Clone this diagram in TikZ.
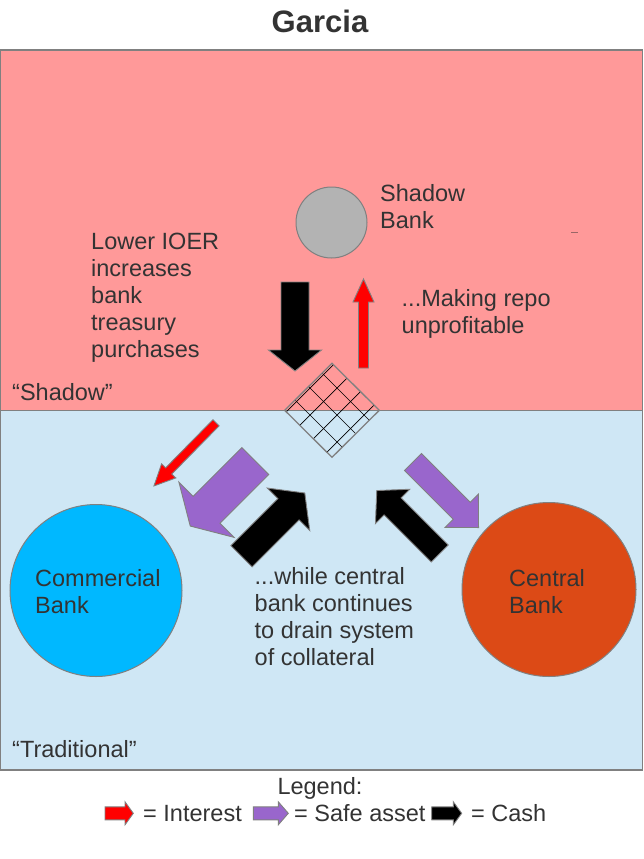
\documentclass[tikz,border=0pt]{standalone}
\usepackage{fontspec}
\setmainfont{Liberation Sans}
\definecolor{pinkbg}{HTML}{FF9999}
\definecolor{bluebg}{HTML}{CFE7F5}
\definecolor{txt}{HTML}{333333}
\definecolor{edgegray}{HTML}{808080}
\definecolor{shadowgray}{HTML}{B3B3B3}
\definecolor{commblue}{HTML}{00B8FF}
\definecolor{centralred}{HTML}{DC4A16}
\definecolor{safepurple}{HTML}{9966CC}
\definecolor{intred}{HTML}{FF0000}
% style, tail, angle, length, shaft width, head width, head length
\newcommand\fatarrow[7]{%
  \begin{scope}[shift={#2},rotate=#3]
    \filldraw[#1] (0,{-#5/2}) -- ({#4-#7},{-#5/2}) -- ({#4-#7},{-#6/2}) -- (#4,0)
      -- ({#4-#7},{#6/2}) -- ({#4-#7},{#5/2}) -- (0,{#5/2}) -- cycle;
  \end{scope}}
\tikzset{
  arrowline/.style={draw=edgegray,line width=0.9pt,line join=miter},
  interestarrow/.style={arrowline,fill=intred},
  safearrow/.style={arrowline,fill=safepurple},
  casharrow/.style={arrowline,fill=black},
  bodytext/.style={text=txt,inner sep=0pt,align=left,font=\fontsize{23.5}{27}\selectfont},
  bank/.style={circle,draw=edgegray,line width=1pt,inner sep=0pt},
  region/.style={draw=edgegray,line width=1.3pt}
}
\begin{document}
\begin{tikzpicture}[x=1pt,y=-1pt]
\useasboundingbox (0,0) rectangle (643,859);
\fill[white] (0,0) rectangle (643,859);
% title
\node[text=txt,anchor=base,inner sep=0pt,font=\fontsize{31}{34}\selectfont\bfseries] (title) at (320,33) {Garcia};
% regions
\filldraw[region,fill=pinkbg] (0.6,50) rectangle (642.2,410.3);
\filldraw[region,fill=bluebg] (0.6,410.3) rectangle (642.2,770);
% tiny artifact
\draw[draw=edgegray!80!red,line width=1pt] (571,232.3) -- (577.7,232.3);
% shadow bank
\node[bank,fill=shadowgray,minimum size=71pt] (shadow) at (331.5,222.5) {};
\node[bodytext,anchor=base west] (shadowlbl) at (380,228) {Shadow\\Bank};
% text (anchor = baseline of last line)
\node[bodytext,anchor=base west] (ioer) at (91,357) {Lower IOER\\increases\\bank\\treasury\\purchases};
\node[bodytext,anchor=base west] (repo) at (401.5,333.7) {...Making repo\\unprofitable};
\node[bodytext,anchor=base west] (shadowtag) at (12,400.7) {“Shadow”};
\node[bodytext,anchor=base west] (tradtag) at (12,757) {“Traditional”};
% banks
\node[bank,fill=commblue,minimum size=172pt] (commercial) at (96,590.5) {};
\node[bank,fill=centralred,minimum size=174pt] (central) at (549,589.5) {};
\node[bodytext,anchor=base west] (commlbl) at (35,613) {Commercial\\Bank};
\node[bodytext,anchor=base west] (centrallbl) at (509,613) {Central\\Bank};
\node[bodytext,anchor=base west] (drain) at (254.5,665) {...while central\\bank continues\\to drain system\\of collateral};
% collateral diamond
\begin{scope}
  \clip (332,363.3) -- (379.3,410.3) -- (332,457.3) -- (284.7,410.3) -- cycle;
  \foreach \c in {671,698,725,752,779,806} {
    \draw[black,line width=0.7pt] ({\c-330},330) -- ({\c-490},490);
  }
  \foreach \d in {-132,-105,-78,-51,-24} {
    \draw[black,line width=0.7pt] ({330+\d},330) -- ({490+\d},490);
  }
\end{scope}
\coordinate (dtop) at (332,363.3);
\coordinate (dright) at (379.3,410.3);
\coordinate (dbottom) at (332,457.3);
\coordinate (dleft) at (284.7,410.3);
\draw[draw=edgegray,line width=1.3pt] (dtop) -- (dright) -- (dbottom) -- (dleft) -- cycle;
% flow arrows
\fatarrow{casharrow}{(295,282)}{270}{89}{28}{53}{21}
\fatarrow{interestarrow}{(363.5,368)}{90}{89}{10}{21}{23}
\fatarrow{interestarrow}{(216,422.8)}{225.5}{88.5}{8.7}{20}{21}
\fatarrow{safearrow}{(255.3,461)}{225}{92}{38}{78}{23}
\fatarrow{casharrow}{(241.5,556.3)}{45}{89.5}{30}{60}{23}
\fatarrow{safearrow}{(413,462)}{-45}{92.7}{24}{47}{23.7}
\fatarrow{casharrow}{(439.7,553.5)}{135}{89}{24}{48.5}{22.4}
% legend
\node[bodytext,anchor=base] (legend) at (320,794) {Legend:};
\fatarrow{interestarrow}{(105,813.3)}{0}{28.3}{13}{23}{8.3}
\node[bodytext,anchor=base west] (leginterest) at (143,821) {= Interest};
\fatarrow{safearrow}{(253.3,813.3)}{0}{35}{13}{23}{10}
\node[bodytext,anchor=base west] (legsafe) at (294,821) {= Safe asset};
\fatarrow{casharrow}{(431.7,813.3)}{0}{30}{13}{23}{8.4}
\node[bodytext,anchor=base west] (legcash) at (471,821) {= Cash};
\end{tikzpicture}
\end{document}
